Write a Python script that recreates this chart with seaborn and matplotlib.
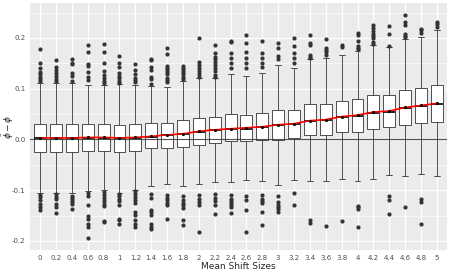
import numpy as np
import pandas as pd
import matplotlib
matplotlib.use("Agg")
import matplotlib.pyplot as plt
import seaborn as sns

# mean shift categories (x axis)
shift_labels = ["0", "0.2", "0.4", "0.6", "0.8", "1", "1.2", "1.4", "1.6", "1.8",
                "2", "2.2", "2.4", "2.6", "2.8", "3", "3.2", "3.4", "3.6", "3.8",
                "4", "4.2", "4.4", "4.6", "4.8", "5"]

# box summaries
q1 = [-0.025, -0.025, -0.025, -0.023, -0.022, -0.025, -0.022, -0.017, -0.016, -0.014,
      -0.010, -0.007, -0.004, -0.003, -0.002, -0.001, 0.003, 0.008, 0.009, 0.014,
      0.015, 0.021, 0.024, 0.029, 0.033, 0.035]
medians = [0.002, 0.002, 0.002, 0.003, 0.003, 0.002, 0.003, 0.005, 0.008, 0.010,
           0.015, 0.018, 0.020, 0.021, 0.024, 0.028, 0.030, 0.036, 0.038, 0.044,
           0.047, 0.053, 0.055, 0.062, 0.066, 0.070]
q3 = [0.030, 0.030, 0.030, 0.030, 0.030, 0.029, 0.030, 0.033, 0.032, 0.038,
      0.043, 0.045, 0.050, 0.049, 0.052, 0.059, 0.059, 0.069, 0.070, 0.076,
      0.080, 0.088, 0.088, 0.097, 0.101, 0.108]
whisker_hi = [0.111, 0.111, 0.111, 0.108, 0.107, 0.109, 0.107, 0.106, 0.103, 0.115,
              0.121, 0.121, 0.129, 0.125, 0.131, 0.147, 0.141, 0.158, 0.160, 0.167,
              0.175, 0.186, 0.182, 0.197, 0.201, 0.215]
whisker_lo = [-0.106, -0.106, -0.106, -0.101, -0.099, -0.105, -0.099, -0.091, -0.087, -0.091,
              -0.088, -0.084, -0.084, -0.080, -0.082, -0.090, -0.080, -0.082, -0.081, -0.078,
              -0.081, -0.078, -0.071, -0.072, -0.068, -0.073]
means = [0.003, 0.003, 0.003, 0.004, 0.004, 0.003, 0.004, 0.006, 0.009, 0.011,
         0.016, 0.019, 0.021, 0.023, 0.025, 0.029, 0.031, 0.037, 0.039, 0.045,
         0.048, 0.054, 0.056, 0.063, 0.067, 0.071]

outliers_hi = [
    [0.178, 0.150, 0.140, 0.133, 0.128, 0.124, 0.119, 0.115],
    [0.156, 0.143, 0.137, 0.131, 0.126, 0.120, 0.115],
    [0.158, 0.151, 0.148, 0.131, 0.125, 0.116],
    [0.186, 0.173, 0.148, 0.144, 0.133, 0.124, 0.117],
    [0.188, 0.172, 0.150, 0.134, 0.127, 0.122, 0.116, 0.112],
    [0.165, 0.150, 0.143, 0.131, 0.126, 0.121, 0.116, 0.111],
    [0.148, 0.137, 0.129, 0.122, 0.117, 0.113],
    [0.159, 0.156, 0.142, 0.137, 0.124, 0.119, 0.110],
    [0.181, 0.168, 0.145, 0.141, 0.137, 0.133, 0.128, 0.122, 0.117, 0.113],
    [0.145, 0.141, 0.137, 0.133, 0.129, 0.124, 0.120],
    [0.199, 0.152, 0.147, 0.141, 0.135, 0.129, 0.124],
    [0.186, 0.170, 0.163, 0.158, 0.152, 0.146, 0.140, 0.134, 0.127, 0.124],
    [0.195, 0.192, 0.171, 0.161, 0.150, 0.140],
    [0.205, 0.190, 0.172, 0.160, 0.150, 0.140],
    [0.195, 0.170, 0.160, 0.150, 0.142],
    [0.190, 0.180, 0.165, 0.158],
    [0.200, 0.185, 0.170, 0.160, 0.150],
    [0.205, 0.191, 0.187, 0.167, 0.163, 0.161],
    [0.197, 0.181, 0.177, 0.172, 0.167],
    [0.186, 0.182],
    [0.210, 0.206, 0.195, 0.184, 0.181, 0.179],
    [0.225, 0.220, 0.214, 0.208, 0.204, 0.199, 0.193, 0.189],
    [0.224, 0.207, 0.185],
    [0.245, 0.232, 0.225, 0.207, 0.203, 0.201],
    [0.218, 0.215, 0.209],
    [0.232, 0.227, 0.222],
]
outliers_lo = [
    [-0.110, -0.114, -0.120, -0.127, -0.134, -0.139],
    [-0.108, -0.113, -0.118, -0.127, -0.133, -0.146],
    [-0.111, -0.115, -0.119, -0.123, -0.127, -0.138],
    [-0.106, -0.111, -0.129, -0.151, -0.157, -0.167, -0.172, -0.195],
    [-0.104, -0.110, -0.116, -0.122, -0.127, -0.132, -0.160, -0.163],
    [-0.107, -0.111, -0.118, -0.122, -0.129, -0.156, -0.159, -0.166],
    [-0.102, -0.108, -0.114, -0.120, -0.126, -0.143, -0.149, -0.159, -0.167, -0.173],
    [-0.108, -0.115, -0.139, -0.144, -0.149, -0.167, -0.172, -0.176],
    [-0.110, -0.116, -0.120, -0.125, -0.130, -0.157],
    [-0.112, -0.120, -0.125, -0.130, -0.135, -0.159, -0.169],
    [-0.110, -0.118, -0.124, -0.130, -0.182],
    [-0.108, -0.115, -0.122, -0.129, -0.147],
    [-0.110, -0.118, -0.122, -0.126, -0.130, -0.134, -0.146],
    [-0.112, -0.120, -0.139, -0.182],
    [-0.110, -0.118, -0.122, -0.126, -0.143, -0.169],
    [-0.112, -0.123, -0.129, -0.134, -0.138, -0.143],
    [-0.105, -0.129],
    [-0.159, -0.165],
    [-0.171],
    [-0.160],
    [-0.131, -0.134, -0.137, -0.173],
    [],
    [-0.112, -0.120, -0.147],
    [-0.133],
    [-0.118, -0.123, -0.167],
    [],
]

# long table whose quartiles/whiskers reproduce the read summaries
K = 30
rows = []
for i, lab in enumerate(shift_labels):
    vals = (outliers_lo[i] + [whisker_lo[i]] + [q1[i]] * K + [medians[i]] * K
            + [q3[i]] * K + [whisker_hi[i]] + outliers_hi[i])
    rows += [(lab, v) for v in vals]
df = pd.DataFrame(rows, columns=["shift", "err"])

sns.set_theme(style="darkgrid", rc={
    "axes.facecolor": "#EBEBEB",
    "grid.color": "white",
    "xtick.major.size": 2,
    "ytick.major.size": 2,
    "xtick.major.width": 0.5,
    "ytick.major.width": 0.5,
    "xtick.color": "#333333",
    "ytick.color": "#333333",
    "xtick.major.pad": 1.5,
    "ytick.major.pad": 1.5,
})

fig = plt.figure(figsize=(4.5, 2.7), dpi=100)
ax = fig.add_axes([0.067, 0.074, 0.926, 0.915])

sns.boxplot(
    data=df, x="shift", y="err", order=shift_labels, ax=ax,
    color="white", linecolor="#333333", linewidth=0.6, width=0.75,
    fliersize=2.0,
    flierprops={"marker": "o", "markerfacecolor": "#333333", "markeredgecolor": "#333333"},
    medianprops={"color": "black", "linewidth": 1.2},
)

ax.axhline(0, color="#333333", linewidth=0.8, alpha=0.85, zorder=3)

# means: red line with black dots
sns.lineplot(x=np.arange(len(means)), y=means, color="red", linewidth=1.2, ax=ax, zorder=4)
sns.scatterplot(x=np.arange(len(means)), y=means, color="black", s=5, linewidth=0, ax=ax, zorder=5)

ax.set_ylim(-0.218, 0.269)
ax.set_xlim(-0.63, len(shift_labels) - 0.37)
ax.set_yticks([-0.2, -0.1, 0.0, 0.1, 0.2])
ax.set_yticklabels(["-0.2", "-0.1", "0.0", "0.1", "0.2"])
ax.set_yticks([-0.15, -0.05, 0.05, 0.15, 0.25], minor=True)
ax.grid(which="major", color="white", linewidth=0.9)
ax.grid(which="minor", axis="y", color="white", linewidth=0.45)
ax.tick_params(axis="y", which="minor", length=0)
ax.tick_params(labelsize=5, labelcolor="#4D4D4D")
for s in ax.spines.values():
    s.set_visible(False)

ax.set_xlabel("Mean Shift Sizes", fontsize=6.5, labelpad=1)
ax.set_ylabel(r"$\hat{\phi} - \phi$", fontsize=6.5)
ax.yaxis.set_label_coords(-0.035, 0.5)

fig.savefig("out.png", dpi=100)
